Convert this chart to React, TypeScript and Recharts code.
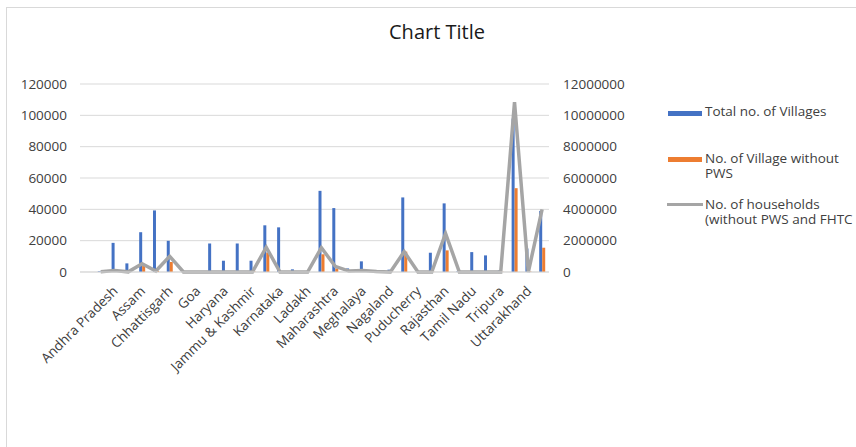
import {Bar, CartesianGrid, ComposedChart, Line, XAxis, YAxis} from "recharts";

const states = [
    "", "A & N Islands", "Andhra Pradesh", "Arunachal Pradesh", "Assam", "Bihar", "Chhattisgarh",
    "DNH and DD", "Goa", "Gujarat", "Haryana", "Himachal Pradesh", "Jammu & Kashmir", "Jharkhand",
    "Karnataka", "Kerala", "Ladakh", "Madhya Pradesh", "Maharashtra", "Manipur", "Meghalaya",
    "Mizoram", "Nagaland", "Odisha", "Puducherry", "Punjab", "Rajasthan", "Sikkim", "Tamil Nadu",
    "Telangana", "Tripura", "Uttar Pradesh", "Uttarakhand", "West Bengal",
];

const totalVillages = [
    null, 400, 18600, 5500, 25400, 39300, 19900, 100, 400, 18200, 7200, 18200, 7200, 29800,
    28500, 1700, 300, 51800, 40800, 2300, 6800, 700, 1500, 47600, 100, 12300, 43800, 400, 12700,
    10600, 900, 97900, 15000, 39000,
];

const villagesWithoutPws = [
    null, 0, 300, 200, 3800, 600, 6400, 0, 0, 100, 0, 200, 300, 12400,
    400, 100, 0, 11300, 2300, 200, 500, 0, 100, 13000, 0, 100, 13800, 0, 200,
    0, 100, 53500, 300, 15500,
];

const householdsWithoutPws = [
    null, 20000, 100000, 10000, 530000, 60000, 1000000, 0, 0, 0, 0, 0, 0, 1580000,
    0, 0, 0, 1550000, 360000, 60000, 100000, 30000, 0, 1300000, 0, 0, 2460000, 0, 0,
    0, 0, 10850000, 0, 4000000,
];

const leftTicks = [0, 20000, 40000, 60000, 80000, 100000, 120000];
const rightTicks = [0, 2000000, 4000000, 6000000, 8000000, 10000000, 12000000];

const data = states.map((name, i) => ({
    name,
    villages: totalVillages[i],
    withoutPws: villagesWithoutPws[i],
    households: householdsWithoutPws[i],
}));

const font = "'Open Sans', sans-serif";
const textColor = "#404040";

const StateTick = ({x, y, payload}: any) => (
    <text
        x={x + 4}
        y={y + 12}
        transform={`rotate(-45 ${x + 4} ${y + 12})`}
        textAnchor="end"
        fontSize={13.5}
        fontFamily={font}
        fill={textColor}
    >
        {payload.value}
    </text>
);

const legendText = (left: number, top: number, label: string) => (
    <div style={{position: "absolute", left, top, height: 15, lineHeight: "15px"}}>{label}</div>
);

const App = () => {
    return (
        <div style={{position: "absolute", left: 0, top: 0, width: 856, height: 447, fontFamily: font}}>
            <div style={{
                position: "absolute", left: 6, top: 7, width: 860, height: 450,
                borderLeft: "1px solid #d9d9d9", borderTop: "1px solid #d9d9d9",
            }}/>
            <div style={{
                position: "absolute", left: 0, width: 874, top: 18, textAlign: "center",
                fontSize: 20, color: "#1a1a1a",
            }}>
                Chart Title
            </div>
            <ComposedChart
                width={856}
                height={447}
                data={data}
                margin={{top: 84, right: 0, left: 0, bottom: 0}}
                barGap={0}
            >
                <CartesianGrid vertical={false} stroke="#d9d9d9" yAxisId="left"/>
                <XAxis
                    dataKey="name"
                    height={175}
                    interval={1}
                    tickLine={false}
                    axisLine={{stroke: "#d9d9d9"}}
                    tick={<StateTick/>}
                />
                <YAxis
                    yAxisId="left"
                    width={80}
                    domain={[0, 120000]}
                    ticks={leftTicks}
                    tickLine={false}
                    axisLine={false}
                    tickSize={0}
                    tickMargin={13}
                    tick={{fontSize: 13.5, fill: textColor, fontFamily: font}}
                />
                <YAxis
                    yAxisId="right"
                    orientation="right"
                    width={307}
                    domain={[0, 12000000]}
                    ticks={rightTicks}
                    tickLine={false}
                    axisLine={false}
                    tickSize={0}
                    tickMargin={14}
                    tick={{fontSize: 13.5, fill: textColor, fontFamily: font}}
                />
                <Bar yAxisId="left" dataKey="villages" fill="#4472c4" barSize={3} isAnimationActive={false}/>
                <Bar yAxisId="left" dataKey="withoutPws" fill="#ed7d31" barSize={3} isAnimationActive={false}/>
                <Line
                    yAxisId="right"
                    dataKey="households"
                    type="linear"
                    stroke="#a5a5a5"
                    strokeWidth={3.5}
                    dot={false}
                    isAnimationActive={false}
                />
            </ComposedChart>
            <div style={{position: "absolute", left: 667, top: 104, fontSize: 13.5, color: textColor, whiteSpace: "nowrap"}}>
                <div style={{position: "absolute", left: 1, top: 7, width: 34, height: 5, background: "#4472c4"}}/>
                {legendText(38, 0, "Total no. of Villages")}
                <div style={{position: "absolute", left: 1, top: 53, width: 34, height: 5, background: "#ed7d31"}}/>
                {legendText(38, 47, "No. of Village without")}
                {legendText(38, 62, "PWS")}
                <div style={{position: "absolute", left: 0, top: 99, width: 36, height: 3, background: "#a5a5a5"}}/>
                {legendText(38, 93, "No. of households")}
                {legendText(38, 108, "(without PWS and FHTC")}
            </div>
        </div>
    );
};

export default App;
